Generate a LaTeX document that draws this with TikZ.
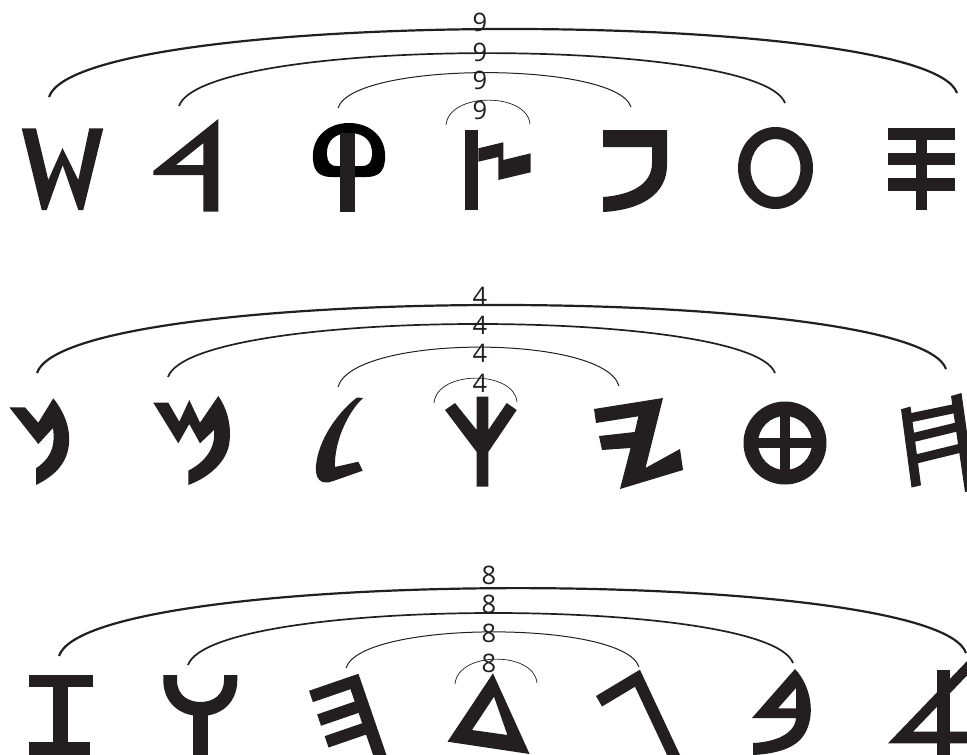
\documentclass[tikz,border=0pt]{standalone}
\usepackage{fontspec}
\setmainfont{Open Sans}
\usepackage{tikz}
\definecolor{ink}{HTML}{231F20}

\begin{document}
\begin{tikzpicture}[x=1pt,y=-1pt,
  glyph/.style={fill=ink},
  lab/.style={inner sep=0pt, text=ink, font=\fontsize{25.5}{25.5}\selectfont},
  arcA/.style={draw=ink, line width=2.2pt},
  arcB/.style={draw=ink, line width=1.7pt},
  arcC/.style={draw=ink, line width=1pt},
  arcD/.style={draw=ink, line width=0.7pt}]
\useasboundingbox (0,0) rectangle (967,755);
\clip (0,0) rectangle (967,755);

% first row
\coordinate (a1) at (49,97);   \coordinate (b1) at (957,93);
\coordinate (a2) at (179,106); \coordinate (b2) at (785,103);
\coordinate (a3) at (338,108); \coordinate (b3) at (631,107);
\coordinate (a4) at (446,125); \coordinate (b4) at (530,124);

\draw[arcA] (a1) .. controls +(30,-90) and +(-30,-86) .. (b1);
\draw[arcB] (a2) .. controls +(25,-70) and +(-25,-67) .. (b2);
\draw[arcC] (a3) .. controls +(15,-47) and +(-15,-46) .. (b3);
\draw[arcD] (a4) .. controls +(3,-33) and +(-3,-32) .. (b4);

\node[lab] (n1) at (480,22) {9};
\node[lab] (n2) at (480,52) {9};
\node[lab] (n3) at (480,80) {9};
\node[lab] (n4) at (480,110) {9};

\fill[glyph] (21.7,128.3) -- (36,128.3) -- (48.3,180) -- (62.5,148) -- (78.3,180) -- (89.3,128.3) -- (103.3,128.3) -- (83.3,210) -- (78.3,210) -- (62.7,165) -- (46.7,210) -- (41.7,210) -- cycle;
\fill[glyph, even odd rule] (218.3,119) -- (218.3,211.7) -- (203.3,211.7) -- (203.3,175) -- (153.3,175) -- (153.3,171) -- cycle
  (176,165) -- (203.3,165) -- (203.3,143.2) -- cycle;
\fill[black, even odd rule] (313,160) .. controls (311,137) and (328,123) .. (349,123) .. controls (370,123) and (387,137) .. (385,160) .. controls (384,172) and (378,177) .. (366,177) -- (332,177) .. controls (320,177) and (314,172) .. (313,160) -- cycle
  (327,155) .. controls (326,140) and (336,133) .. (349.5,133) .. controls (363,133) and (373,140) .. (372,155) .. controls (371.5,162) and (369,166) .. (362,166) -- (337,166) .. controls (330,166) and (327.5,162) .. (327,155) -- cycle;
\fill[glyph] (340,133) rectangle (355,212);
\fill[glyph] (465,130) rectangle (478.3,210);
\fill[glyph] (478.3,148.3) -- (503.3,142.3) -- (503.3,160) -- (530.7,153.3) -- (530.7,172.3) -- (498.3,180) -- (498.3,157) -- (478.3,161.7) -- cycle;
\fill[glyph] (603,130) -- (667,130) -- (667,165) .. controls (667,195) and (640,210) .. (603,212) -- (603,197) .. controls (630,195) and (652,185) .. (652,163) -- (652,147) -- (603,147) -- cycle;
\fill[glyph, even odd rule] (775.5,168) ellipse [x radius=37.5, y radius=41] (775.5,168) ellipse [x radius=25, y radius=29];
\fill[glyph] (888,128) rectangle (955,140);
\fill[glyph] (888,153) rectangle (955,165);
\fill[glyph] (888,178) rectangle (955,191);
\fill[glyph] (916,128) rectangle (927.3,210);

% second row
\coordinate (c1) at (37,373);  \coordinate (d1) at (946,369);
\coordinate (c2) at (168,377); \coordinate (d2) at (775,373);
\coordinate (c3) at (338,387); \coordinate (d3) at (619,386);
\coordinate (c4) at (434,403); \coordinate (d4) at (517,402);

\draw[arcA] (c1) .. controls +(30,-90) and +(-30,-86) .. (d1);
\draw[arcB] (c2) .. controls +(25,-70) and +(-25,-66) .. (d2);
\draw[arcC] (c3) .. controls +(15,-53) and +(-15,-52) .. (d3);
\draw[arcD] (c4) .. controls +(3,-33) and +(-3,-32) .. (d4);

\node[lab] (m1) at (480,296) {4};
\node[lab] (m2) at (480,325) {4};
\node[lab] (m3) at (480,353) {4};
\node[lab] (m4) at (480,383) {4};

\fill[glyph] (9.3,407.3) -- (25,407.3) -- (38.3,422.7) -- (53.3,398.3) .. controls (66,414) and (72,433) .. (68,450) .. controls (64,468) and (50,478) .. (36,485) -- (36,468.3) .. controls (48,460) and (56,450) .. (53,428) -- (38.3,444) -- cycle;
\fill[glyph] (153.3,402.7) -- (168.3,402.7) -- (179.3,421.7) -- (189.3,400) -- (200,422.7) -- (218.3,396) .. controls (228,410) and (232,428) .. (229,445) .. controls (225,465) and (205,479) .. (188.3,485) -- (188.3,470.7) .. controls (205,462) and (216,448) .. (214,430) -- (200,443.3) -- (189.3,424) -- (178.3,443.3) -- cycle;
\fill[glyph] (363,398) .. controls (347,413) and (334,443) .. (335,467) -- (358.3,461.7) -- (362.7,470.7) -- (333.3,481) .. controls (320,486) and (315,478) .. (316,466) .. controls (318,440) and (338,412) .. (357,397.5) -- cycle;
\fill[glyph] (476.7,396.7) -- (488.3,396.7) -- (488.3,430) -- (506.7,403) -- (516.7,410) -- (488.3,452) -- (488.3,486.7) -- (476.7,486.7) -- (476.7,452) -- (445,410) -- (455,403) -- (476.7,430) -- cycle;
\fill[glyph] (594,409) -- (663,398) -- (645.5,468) -- (680,449) -- (683,470) -- (620,489) -- (630.6,448) -- (602,450) -- (599,436) -- (634.7,432) -- (638.4,416.3) -- (596,423) -- cycle;
\fill[glyph, even odd rule] (785,443) circle [radius=41.5] (785,443) circle [radius=27];
\fill[glyph] (780,415) rectangle (790,471);
\fill[glyph] (757,438) rectangle (813,448);
\fill[glyph] (901,409.3) -- (910.5,406.5) -- (921,485.3) -- (911.5,487.5) -- cycle;
\fill[glyph] (951,396) -- (961.5,393) -- (975,490) -- (965,492) -- cycle;
\draw[ink, line width=9pt] (908,418.3) -- (956,408.3);
\draw[ink, line width=9pt] (910,438.3) -- (958,426.7);
\draw[ink, line width=9pt] (912,460) -- (960,448.3);

% third row
\coordinate (e1) at (59,656);  \coordinate (f1) at (966,653);
\coordinate (e2) at (188,665); \coordinate (f2) at (793,663);
\coordinate (e3) at (346,668); \coordinate (f3) at (639,667);
\coordinate (e4) at (455,684); \coordinate (f4) at (537,683);

\draw[arcA] (e1) .. controls +(30,-90) and +(-30,-87) .. (f1);
\draw[arcB] (e2) .. controls +(25,-69) and +(-25,-67) .. (f2);
\draw[arcC] (e3) .. controls +(15,-48) and +(-15,-47) .. (f3);
\draw[arcD] (e4) .. controls +(3,-33) and +(-3,-32) .. (f4);

\node[lab] (k1) at (489,575) {8};
\node[lab] (k2) at (489,604) {8};
\node[lab] (k3) at (489,633) {8};
\node[lab] (k4) at (489,663) {8};

\fill[glyph] (29.3,675) rectangle (92.7,686.7);
\fill[glyph] (53.3,686) rectangle (68.3,743);
\fill[glyph] (29.3,742.3) rectangle (90,760);
\fill[glyph] (163.3,675) -- (177,675) -- (177,680) .. controls (177,695) and (188,702) .. (200.5,702) .. controls (213,702) and (224,695) .. (224,680) -- (224,675) -- (237.3,675) -- (237.3,680) .. controls (237.3,702) and (222,716) .. (200.5,716) .. controls (179,716) and (163.3,702) .. (163.3,680) -- cycle;
\fill[glyph] (193.3,710) rectangle (208.3,760);
\begin{scope}[shift={(352.5,675.8)}, rotate=19]
\fill[glyph] (-6.3,0) rectangle (6.3,95);
\fill[glyph] (-46,0) rectangle (-6,12);
\fill[glyph] (-46,25) rectangle (-6,37);
\fill[glyph] (-46,48) rectangle (-6,60);
\end{scope}
\fill[glyph, even odd rule] (493,673.3) -- (529.6,754) -- (447.5,741.7) -- cycle (494,696.7) -- (507.4,735) -- (472,730) -- cycle;
\fill[glyph] (596,696) -- (639.9,669.7) -- (680,755) -- (668,757) -- (635,686.7) -- (602,706.5) -- cycle;
\fill[glyph, even odd rule] (795,669) .. controls (813,688) and (817,722) .. (800,740) .. controls (790,750) and (772,754) .. (753,755) -- (753,743) .. controls (775,742) and (795,734) .. (796,718) -- (752,718) -- cycle
  (778,708.3) -- (796,708.3) -- (796,688) -- cycle;
\fill[glyph] (937,670) rectangle (950,760);
\fill[glyph] (888,743.3) -- (980,647.6) -- (980,662) -- (913,731.7) -- (980,731.7) -- (980,743.3) -- cycle;
\end{tikzpicture}
\end{document}
